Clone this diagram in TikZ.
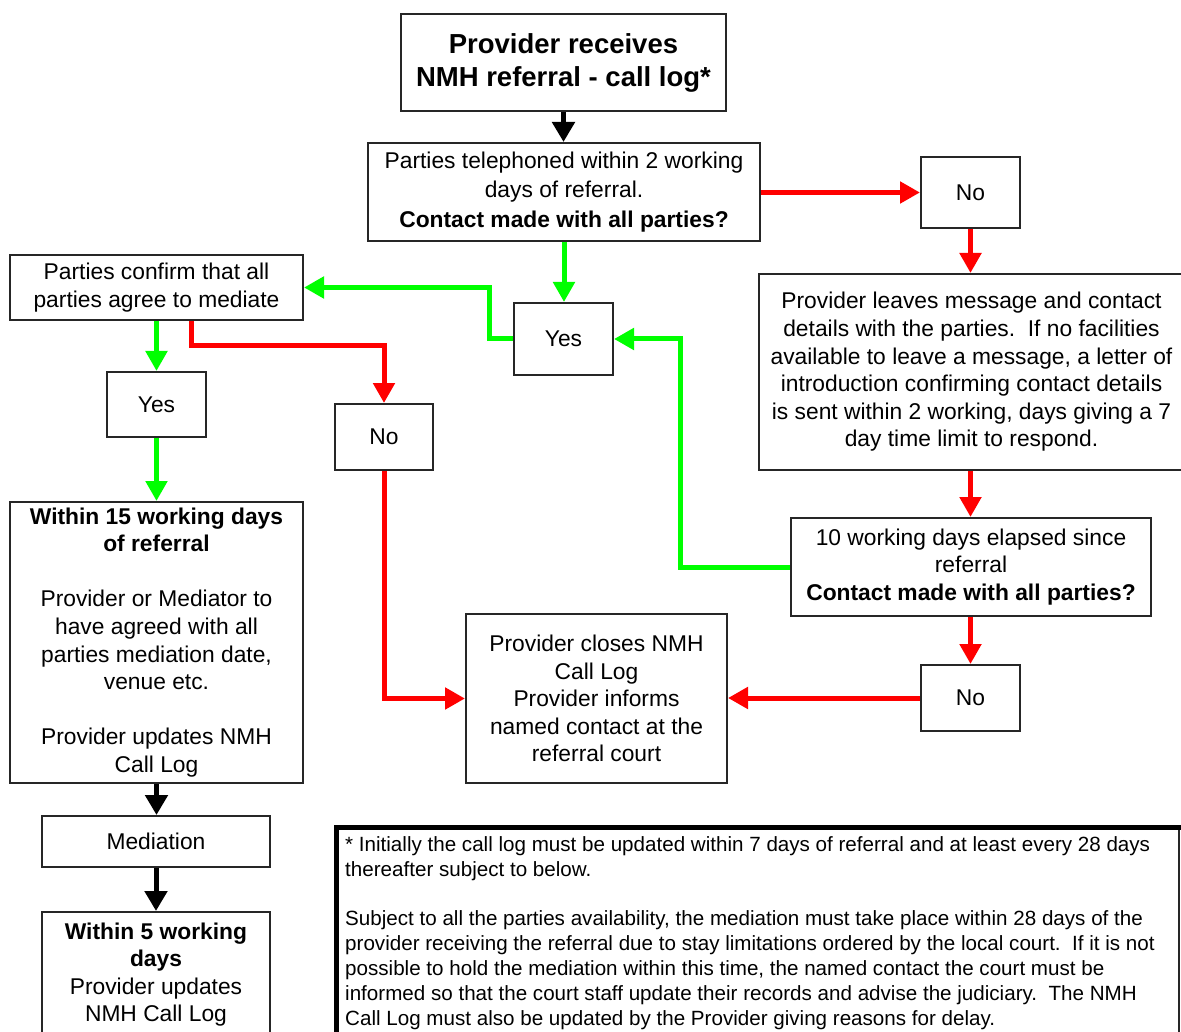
\documentclass[tikz,border=0pt]{standalone}
\usepackage{fontspec}
\setmainfont{Liberation Sans}
\usetikzlibrary{arrows.meta}
\newcommand\bodyfont{\fontsize{22.8}{27.6}\selectfont}
\newcommand\titlefont{\fontsize{27.5}{33}\selectfont\bfseries}
\newcommand\notefont{\fontsize{20.6}{24.9}\selectfont}
\definecolor{gr}{RGB}{0,255,0}
\definecolor{rd}{RGB}{255,0,0}
\tikzset{
  box/.style={draw=black!85, line width=2pt, align=center, inner sep=0pt, font=\bodyfont},
  garrow/.style={draw=gr, line width=5pt, -{Triangle[length=20pt,width=21pt]}},
  rarrow/.style={draw=rd, line width=5pt, -{Triangle[length=20pt,width=21pt]}},
  karrow/.style={draw=black, line width=5pt, -{Triangle[length=20pt,width=22pt]}},
}
\begin{document}
\begin{tikzpicture}[x=1pt,y=-1pt]
\useasboundingbox (0,0) rectangle (1181,1032);
\clip (0,0) rectangle (1181,1032);
\fill[white] (0,0) rectangle (1181,1032);

% nodes
\node[box, font=\titlefont, minimum width=325pt, minimum height=97pt] (A) at (563.5,62.5)
  {Provider receives\\NMH referral - call log*};
\node[box, font=\fontsize{22.8}{29.5}\selectfont, minimum width=392pt, minimum height=98pt] (B) at (564,192)
  {Parties telephoned within 2 working\\days of referral.\\\textbf{Contact made with all parties?}};
\node[box, minimum width=99pt, minimum height=71pt] (no1) at (970.5,192.5) {No};
\node[box, minimum width=425pt, minimum height=196pt] (C) at (971.5,372)
  {Provider leaves message and contact\\details with the parties.\ \ If no facilities\\available to leave a message, a letter of\\introduction confirming contact details\\is sent within 2 working, days giving a 7\\day time limit to respond.};
\node[box, minimum width=360pt, minimum height=98pt] (D) at (971,567)
  {10 working days elapsed since\\referral\\\textbf{Contact made with all parties?}};
\node[box, minimum width=99pt, minimum height=66pt] (no2) at (970.5,698) {No};
\node[box, minimum width=261pt, minimum height=169pt] (E) at (596.5,698.5)
  {Provider closes NMH\\Call Log\\Provider informs\\named contact at the\\referral court};
\node[box, minimum width=99pt, minimum height=72pt] (yes1) at (563.5,339) {Yes};
\node[box, minimum width=293pt, minimum height=65pt] (F) at (156.5,287.5)
  {Parties confirm that all\\parties agree to mediate};
\node[box, minimum width=99pt, minimum height=65pt] (yes2) at (156.5,404.5) {Yes};
\node[box, minimum width=98pt, minimum height=66pt] (no3) at (384,437) {No};
\node[box, minimum width=293pt, minimum height=281pt] (G) at (156.5,642.5)
  {\textbf{Within 15 working days}\\\textbf{of referral}\\[27.6pt]Provider or Mediator to\\have agreed with all\\parties mediation date,\\venue etc.\\[27.6pt]Provider updates NMH\\Call Log};
\node[box, minimum width=228pt, minimum height=51pt] (med) at (156,841.5) {Mediation};
\node[box, minimum width=228pt, minimum height=125pt] (H) at (156,974.5)
  {\textbf{Within 5 working}\\\textbf{days}\\Provider updates\\NMH Call Log};

% note box
\draw[black!85, line width=2pt] (336,827) rectangle (1179,1045);
\draw[black, line width=5pt] (336,1045) -- (336,827) -- (1181,827);
\node[anchor=north west, inner sep=0pt, align=left, font=\notefont] (note) at (345,836)
  {* Initially the call log must be updated within 7 days of referral and at least every 28 days\\
   thereafter subject to below.\\[24.9pt]
   Subject to all the parties availability, the mediation must take place within 28 days of the\\
   provider receiving the referral due to stay limitations ordered by the local court.\ \ If it is not\\
   possible to hold the mediation within this time, the named contact the court must be\\
   informed so that the court staff update their records and advise the judiciary.\ \ The NMH\\
   Call Log must also be updated by the Provider giving reasons for delay.};

% connectors
\draw[karrow] (A.south) -- (A.south |- B.north);
\draw[rarrow] (B.east |- no1.west) -- (no1.west);
\draw[rarrow] (no1.south) -- (no1.south |- C.north);
\draw[rarrow] (no1.south |- C.south) -- (no1.south |- D.north);
\draw[rarrow] (no1.south |- D.south) -- (no2.north);
\draw[rarrow] (no2.west) -- (no2.west -| E.east);
\draw[garrow] (B.south) -- (B.south |- yes1.north);
\draw[garrow] (D.west) -- ++(-110,0) |- (yes1.east);
\draw[garrow] (yes1.west) -- ++(-24,0) |- (F.east);
\draw[garrow] (F.south) -- (yes2.north);
\draw[garrow] (yes2.south) -- (G.north);
\draw[rarrow] ([xshift=35pt]F.south) -- ++(0,25) -| (no3.north);
\draw[rarrow] (no3.south) |- (E.west);
\draw[karrow] (G.south) -- (G.south |- med.north);
\draw[karrow] (med.south) -- (med.south |- H.north);
\end{tikzpicture}
\end{document}
